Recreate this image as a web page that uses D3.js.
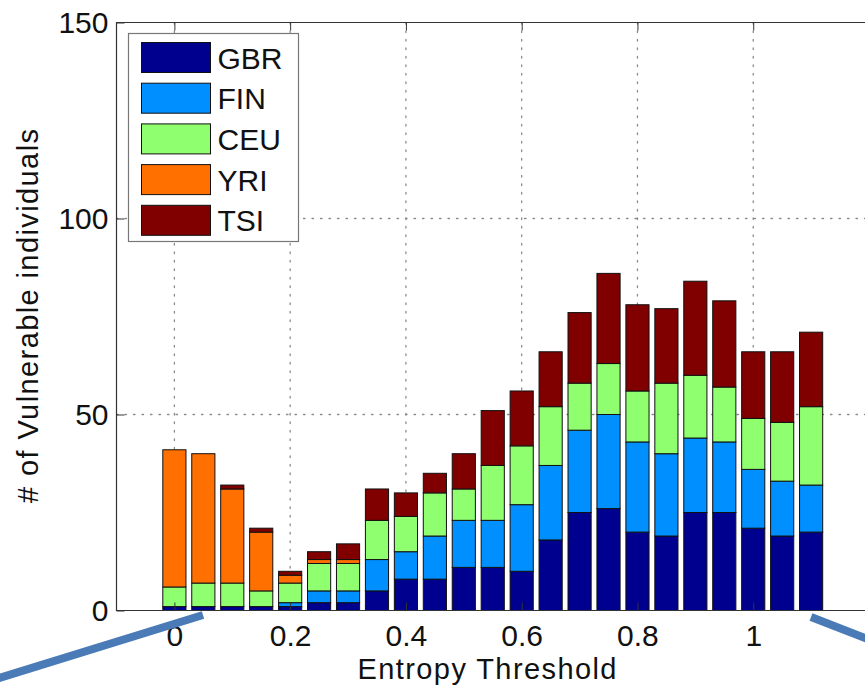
<!DOCTYPE html>
<html>
<head>
<meta charset="utf-8">
<script src="https://cdn.jsdelivr.net/npm/d3@7/dist/d3.min.js"></script>
<style>
  body { margin: 0; background: #fff; }
  svg text { font-family: "Liberation Sans", Arial, sans-serif; fill: #111; }
</style>
</head>
<body>
<svg id="chart"></svg>
<script>
// Data
const thresholds = [0, 0.05, 0.1, 0.15, 0.2, 0.25, 0.3, 0.35, 0.4, 0.45, 0.5, 0.55,
                    0.6, 0.65, 0.7, 0.75, 0.8, 0.85, 0.9, 0.95, 1.0, 1.05, 1.1];
const populations = ["GBR", "FIN", "CEU", "YRI", "TSI"];
const gbr = [1, 1, 1, 1, 1, 2, 2, 5, 8, 8, 11, 11, 10, 18, 25, 26, 20, 19, 25, 25, 21, 19, 20];
const fin = [0, 0, 0, 0, 1, 3, 3, 8, 7, 11, 12, 12, 17, 19, 21, 24, 23, 21, 19, 18, 15, 14, 12];
const ceu = [5, 6, 6, 4, 5, 7, 7, 10, 9, 11, 8, 14, 15, 15, 12, 13, 13, 18, 16, 14, 13, 15, 20];
const yri = [35, 33, 24, 15, 2, 1, 1, 0, 0, 0, 0, 0, 0, 0, 0, 0, 0, 0, 0, 0, 0, 0, 0];
const tsi = [0, 0, 1, 1, 1, 2, 4, 8, 6, 5, 9, 14, 14, 14, 18, 23, 22, 19, 24, 22, 17, 18, 19];
const xTicks = [0, 0.2, 0.4, 0.6, 0.8, 1, 1.2];
const yTicks = [0, 50, 100, 150];
const colors = ["#00008f", "#008fff", "#8fff70", "#ff7000", "#800000"];

const width = 865, height = 689;
const svg = d3.select("#chart").attr("width", width).attr("height", height);

const plotL = 116.5, plotT = 22.5, plotB = 610.5, plotR = 869;

const x = d3.scaleLinear().domain([-0.1, 1.2]).range([plotL, plotR]);
const y = d3.scaleLinear().domain([0, 150]).range([plotB, plotT]);
const color = d3.scaleOrdinal(populations, colors);

// table for the stack
const series = [gbr, fin, ceu, yri, tsi];
const table = thresholds.map((t, i) => {
  const row = { t };
  populations.forEach((p, k) => row[p] = series[k][i]);
  return row;
});
const stacked = d3.stack().keys(populations)(table);

// grid
const grid = svg.append("g").attr("stroke", "#8a8a8a").attr("stroke-width", 1.3)
  .attr("stroke-dasharray", "1.5,7").attr("stroke-linecap", "round");
grid.selectAll(".gx").data(xTicks).join("line")
  .attr("x1", d => x(d)).attr("x2", d => x(d)).attr("y1", plotT).attr("y2", plotB);
grid.selectAll(".gy").data(yTicks.filter(d => d > 0 && d < 150)).join("line")
  .attr("x1", plotL).attr("x2", plotR).attr("y1", d => y(d)).attr("y2", d => y(d));

// bars
const bw = x(0.04) - x(0);
svg.append("g").selectAll("g").data(stacked).join("g")
  .attr("fill", d => color(d.key))
  .selectAll("rect").data(d => d.filter(s => s[1] - s[0] > 0)).join("rect")
  .attr("x", d => x(d.data.t) - bw / 2)
  .attr("y", d => y(d[1]))
  .attr("width", bw)
  .attr("height", d => y(d[0]) - y(d[1]))
  .attr("stroke", "#111")
  .attr("stroke-width", 1);

// axes (the 1.2 label sits past the window edge, so it is left blank)
const fmt = d => d > 1.15 ? "" : String(+d.toFixed(1));
const xAxis = svg.append("g").attr("transform", `translate(0,${plotB})`)
  .call(d3.axisBottom(x).tickValues(xTicks).tickFormat(fmt).tickSize(-8).tickPadding(14));
const xTop = svg.append("g").attr("transform", `translate(0,${plotT})`)
  .call(d3.axisTop(x).tickValues(xTicks).tickFormat("").tickSize(-8));
const yAxis = svg.append("g").attr("transform", `translate(${plotL},0)`)
  .call(d3.axisLeft(y).tickValues(yTicks).tickSize(-8).tickPadding(8));
[xAxis, xTop, yAxis].forEach(a => {
  a.select(".domain").remove();
  a.selectAll("line").attr("stroke", "#333");
  a.selectAll("text").attr("font-size", 30).attr("font-family", "Liberation Sans, Arial").attr("fill", "#111");
});

// frame
svg.append("path")
  .attr("d", `M${plotR},${plotT}H${plotL}V${plotB}H${plotR}`)
  .attr("fill", "none").attr("stroke", "#333").attr("stroke-width", 1.2);

// axis labels
svg.append("text").attr("x", 487).attr("y", 679).attr("text-anchor", "middle")
  .attr("font-size", 29).attr("textLength", 259).text("Entropy Threshold");
svg.append("text").attr("transform", "translate(38,316) rotate(-90)").attr("text-anchor", "middle")
  .attr("font-size", 29).attr("textLength", 374).text("# of Vulnerable individuals");

// legend
const lg = svg.append("g").attr("transform", "translate(128.5,33.5)");
lg.append("rect").attr("width", 170).attr("height", 208)
  .attr("fill", "#fff").attr("stroke", "#777").attr("stroke-width", 1.2);
const item = lg.selectAll(".item").data(populations).join("g")
  .attr("transform", (d, i) => `translate(13,${9 + i * 40.7})`);
item.append("rect").attr("width", 69).attr("height", 30)
  .attr("fill", d => color(d)).attr("stroke", "#111");
item.append("text").attr("x", 76).attr("y", 26).attr("font-size", 30).text(d => d);

// slide annotation lines
const pointers = [[[-4, 679], [203, 615]], [[811, 617], [870, 640]]];
svg.append("g").selectAll("line").data(pointers).join("line")
  .attr("x1", d => d[0][0]).attr("y1", d => d[0][1])
  .attr("x2", d => d[1][0]).attr("y2", d => d[1][1])
  .attr("stroke", "#4a7bb7").attr("stroke-width", 8);
</script>
</body>
</html>
